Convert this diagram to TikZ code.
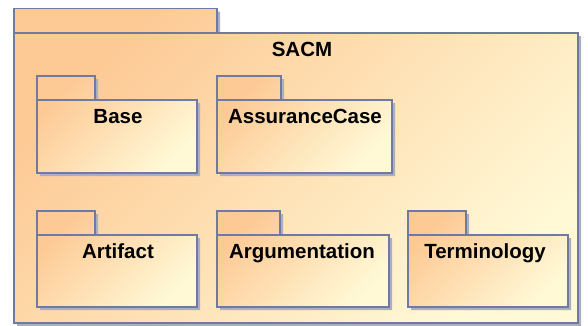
\documentclass[tikz,border=0pt]{standalone}
\usepackage{fontspec}
\setmainfont{Liberation Sans}

\definecolor{pkgorange}{HTML}{FDC994}
\definecolor{pkgpale}{HTML}{FFF9D6}
\definecolor{pkgline}{HTML}{6F79A2}
\definecolor{pkgshade}{HTML}{ABAFC2}

\tikzset{
  shadowfill/.style={fill=pkgshade},
  pkgbody/.style={top color=pkgorange, bottom color=pkgpale, shading angle=45},
  pkgborder/.style={draw=pkgline, line width=1.3pt},
  pkglabel/.style={font=\fontsize{20.5}{24}\selectfont\bfseries, anchor=base}
}

% name, label, left, tab top, body top, right, bottom, tab right, label x
\newcommand{\package}[9]{
  \fill[shadowfill] (#3+3,#4+3) -- (#8+3,#4+3) -- (#8+3,#5+3) -- (#6+3,#5+3) -- (#6+3,#7+3) -- (#3+3,#7+3) -- cycle;
  \shade[pkgbody] (#3,#4) -- (#8,#4) -- (#8,#5) -- (#6,#5) -- (#6,#7) -- (#3,#7) -- cycle;
  \draw[pkgborder] (#3,#4) rectangle (#8,#5);
  \draw[pkgborder] (#3,#5) rectangle (#6,#7);
  \node[pkglabel] (#1) at (#9,#5+23) {#2};
}

\begin{document}
\begin{tikzpicture}[x=1pt, y=-1pt]

\useasboundingbox (0,0) rectangle (588,325);

% outer package
\package{sacm}{SACM}{14}{8.5}{33}{578}{323}{217}{302}

% first row
\package{base}{Base}{37}{76}{100}{197}{173}{95}{118}
\package{assurance}{AssuranceCase}{217}{76}{100}{392}{173}{281}{305}

% second row
\package{artifact}{Artifact}{37}{211}{235}{197}{307}{95}{118}
\package{argumentation}{Argumentation}{217}{211}{235}{389}{307}{280}{302}
\package{terminology}{Terminology}{408}{211}{235}{568}{307}{466}{485}

\end{tikzpicture}
\end{document}
